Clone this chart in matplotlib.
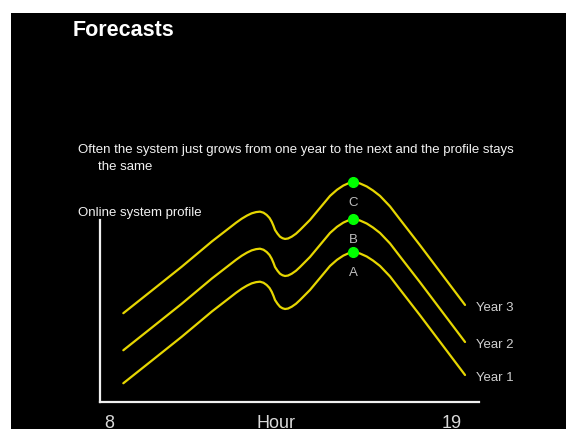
import matplotlib.pyplot as plt
from matplotlib.patches import Rectangle

plt.rcParams['font.family'] = ['Liberation Sans', 'DejaVu Sans']

# hourly load profile of the online system (arbitrary units)
hours = [8.459, 9.379, 10.332, 11.303, 11.881, 12.073, 12.256, 12.426, 12.577, 12.715,
         12.843, 12.955, 13.058, 13.148, 13.218, 13.276, 13.324, 13.404, 13.484, 13.564,
         13.645, 13.741, 13.859, 13.997, 14.126, 14.446, 14.767, 15.088, 15.312, 15.515,
         15.665, 15.835, 16.050, 16.265, 16.467, 16.691, 17.012, 17.333, 17.974, 18.616,
         19.418]
year1 = [12.5, 27.7, 43.5, 60.4, 69.7, 72.8, 75.5, 77.6, 79.1, 79.9,
         80.2, 79.5, 78.0, 76.0, 73.5, 70.7, 68.0, 65.5, 63.5, 62.5,
         62.0, 62.3, 63.5, 65.5, 68.0, 74.7, 82.7, 90.7, 94.8, 97.6,
         99.0, 100.0, 99.0, 97.0, 94.3, 90.7, 83.7, 75.0, 57.8, 40.1,
         18.0]
year2 = [34.5, 49.7, 65.5, 82.4, 91.7, 94.8, 97.5, 99.6, 101.1, 101.9,
         102.2, 101.5, 100.0, 98.0, 95.5, 92.7, 90.0, 87.5, 85.5, 84.5,
         84.0, 84.3, 85.5, 87.5, 90.0, 96.7, 104.7, 112.7, 116.8, 119.6,
         121.0, 122.0, 121.0, 119.0, 116.3, 112.7, 105.7, 97.0, 79.8, 62.1,
         40.0]
year3 = [59.2, 74.4, 90.2, 107.1, 116.4, 119.5, 122.2, 124.3, 125.8, 126.6,
         126.9, 126.2, 124.7, 122.7, 120.2, 117.4, 114.7, 112.2, 110.2, 109.2,
         108.7, 109.0, 110.2, 112.2, 114.7, 121.4, 129.4, 137.4, 141.5, 144.3,
         145.7, 146.7, 145.7, 143.7, 141.0, 137.4, 130.4, 121.7, 104.5, 86.8,
         64.7]
series = [('Year 1', year1), ('Year 2', year2), ('Year 3', year3)]

peak_hour = 15.835
peak_labels = ['A', 'B', 'C']
peak_values = [100.0, 122.0, 146.7]

W, H = 566, 429
fig = plt.figure(figsize=(W / 100, H / 100), dpi=100, facecolor='white')
fig.patches.append(Rectangle((11 / W, 0), 555 / W, 416 / H, transform=fig.transFigure,
                             facecolor='black', edgecolor='none', zorder=-10))

def fx(px):
    return px / W

def fy(py):
    return 1 - py / H

ax = fig.add_axes([fx(100), fy(402), fx(479) - fx(100), fy(150) - fy(402)])
ax.set_facecolor('none')
ax.set_xlim(7.711, 19.866)
ax.set_ylim(0, 168)

for name, vals in series:
    ax.plot(hours, vals, color='#e6d600', lw=1.6, solid_capstyle='round',
            solid_joinstyle='round')
    ax.text(19.78, vals[-1] - 2, name, color='#d0d0d0', fontsize=9.5, va='center', ha='left')

for lab, v in zip(peak_labels, peak_values):
    ax.plot(peak_hour, v, 'o', color='#00ff00', ms=7, zorder=5)
    ax.text(peak_hour, v - 14, lab, color='#bdbdbd', fontsize=9.5, ha='center', va='center')

for side in ['top', 'right']:
    ax.spines[side].set_visible(False)
for side in ['left', 'bottom']:
    ax.spines[side].set_color('#f0f0f0')
    ax.spines[side].set_linewidth(1.6)
ax.spines['left'].set_bounds(0, 121.3)

ax.set_yticks([])
ax.set_xticks([8, 19])
ax.set_xticklabels(['8', '19'])
ax.tick_params(axis='x', length=0, pad=9, labelsize=13, labelcolor='#d9d9d9')
ax.set_xlabel('Hour', fontsize=13, color='#d9d9d9')
ax.xaxis.set_label_coords((276 - 100) / 379, -13 / 252, transform=ax.transAxes)
ax.xaxis.label.set_va('top')

fig.text(fx(73), fy(30), 'Forecasts', color='white', fontsize=15.5, fontweight='bold', va='center')
fig.text(fx(78), fy(150), 'Often the system just grows from one year to the next and the profile stays',
         color='#f2f2f2', fontsize=9.5, va='center')
fig.text(fx(98), fy(167), 'the same', color='#f2f2f2', fontsize=9.5, va='center')
fig.text(fx(78), fy(213), 'Online system profile', color='#f2f2f2', fontsize=9.5, va='center')

fig.savefig('out.png', dpi=100, facecolor='white')
